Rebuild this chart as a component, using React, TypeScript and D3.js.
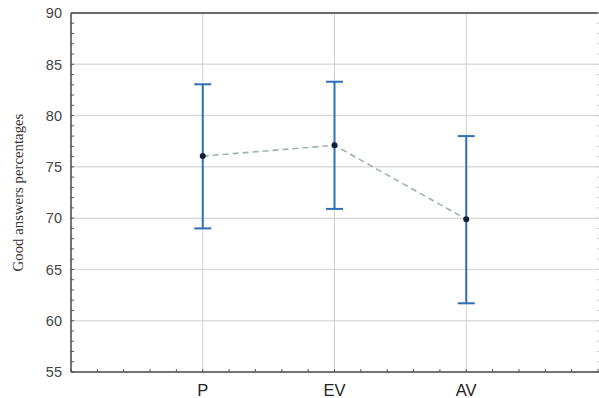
import React from "react";
import * as d3 from "d3";

const categories = ["P", "EV", "AV"];
const means = [76.05, 77.1, 69.9];
const upper = [83.05, 83.3, 78.0];
const lower = [69.0, 70.9, 61.7];
const yTicks = [55, 60, 65, 70, 75, 80, 85, 90];
const yLabel = "Good answers percentages";

export default function App() {
  const W = 599, H = 398;
  const left = 71, right = 598, top = 13, bottom = 372;
  const x = d3.scaleLinear().domain([0, 4]).range([left, right]);
  const y = d3.scaleLinear().domain([55, 90]).range([bottom, top]);
  const minorX = d3.range(0, 4.0001, 0.2);
  const minorY = d3.range(55, 90.0001, 1);
  const pts = categories.map((c, i) => [x(i + 1), y(means[i])] as [number, number]);
  const line = d3.line()(pts) || "";
  const blue = "#2f6fb5";
  return (
    <svg width={W} height={H} style={{ position: "absolute", left: 0, top: 0, background: "#fff" }}>
      {yTicks.slice(1, -1).map((t) => (
        <line key={"g" + t} x1={left} x2={right} y1={y(t)} y2={y(t)} stroke="#dcdcdc" strokeWidth={1.5} />
      ))}
      {categories.map((c, i) => (
        <line key={"v" + c} x1={x(i + 1)} x2={x(i + 1)} y1={top} y2={bottom} stroke="#cfcfcf" strokeWidth={1} />
      ))}
      <line x1={left} x2={W} y1={y(90)} y2={y(90)} stroke="#6a6a6a" strokeWidth={2} />
      {minorY.map((t) => (
        <line key={"ry" + t} x1={right - 1} x2={right + 1} y1={y(t)} y2={y(t)} stroke="#c8c8c8" strokeWidth={1} />
      ))}
      <line x1={left} x2={left} y1={top} y2={bottom} stroke="#444" strokeWidth={1.5} />
      {minorY.map((t) => (
        <line key={"ly" + t} x1={left} x2={left + 3} y1={y(t)} y2={y(t)} stroke="#555" strokeWidth={1} />
      ))}
      <line x1={left} x2={W} y1={bottom} y2={bottom} stroke="#444" strokeWidth={1.5} />
      {minorX.map((t) => (
        <line key={"bx" + t} x1={x(t)} x2={x(t)} y1={bottom} y2={bottom - 3} stroke="#555" strokeWidth={1} />
      ))}
      {yTicks.map((t) => (
        <text key={"yl" + t} x={left - 9} y={y(t)} dy="0.36em" textAnchor="end" fontFamily="Liberation Sans, Arial, sans-serif" fontSize={14.5} fill="#444">
          {t}
        </text>
      ))}
      {categories.map((c, i) => (
        <text key={"xl" + c} x={x(i + 1)} y={396} textAnchor="middle" fontFamily="Liberation Sans, Arial, sans-serif" fontSize={16.5} fill="#222">
          {c}
        </text>
      ))}
      <text transform={`translate(23,${(top + bottom) / 2}) rotate(-90)`} textAnchor="middle" fontFamily="Liberation Serif, Times New Roman, serif" fontSize={14.8} fill="#333">
        {yLabel}
      </text>
      <path d={line} fill="none" stroke="#9fb3ad" strokeWidth={1.6} strokeDasharray="6,4" />
      {categories.map((c, i) => (
        <g key={"e" + c} stroke={blue} strokeWidth={2}>
          <line x1={x(i + 1)} x2={x(i + 1)} y1={y(upper[i])} y2={y(lower[i])} />
          <line x1={x(i + 1) - 8.5} x2={x(i + 1) + 8.5} y1={y(upper[i])} y2={y(upper[i])} />
          <line x1={x(i + 1) - 8.5} x2={x(i + 1) + 8.5} y1={y(lower[i])} y2={y(lower[i])} />
        </g>
      ))}
      {pts.map((p, i) => (
        <circle key={"p" + i} cx={p[0]} cy={p[1]} r={3} fill="#0f1e3a" />
      ))}
    </svg>
  );
}
